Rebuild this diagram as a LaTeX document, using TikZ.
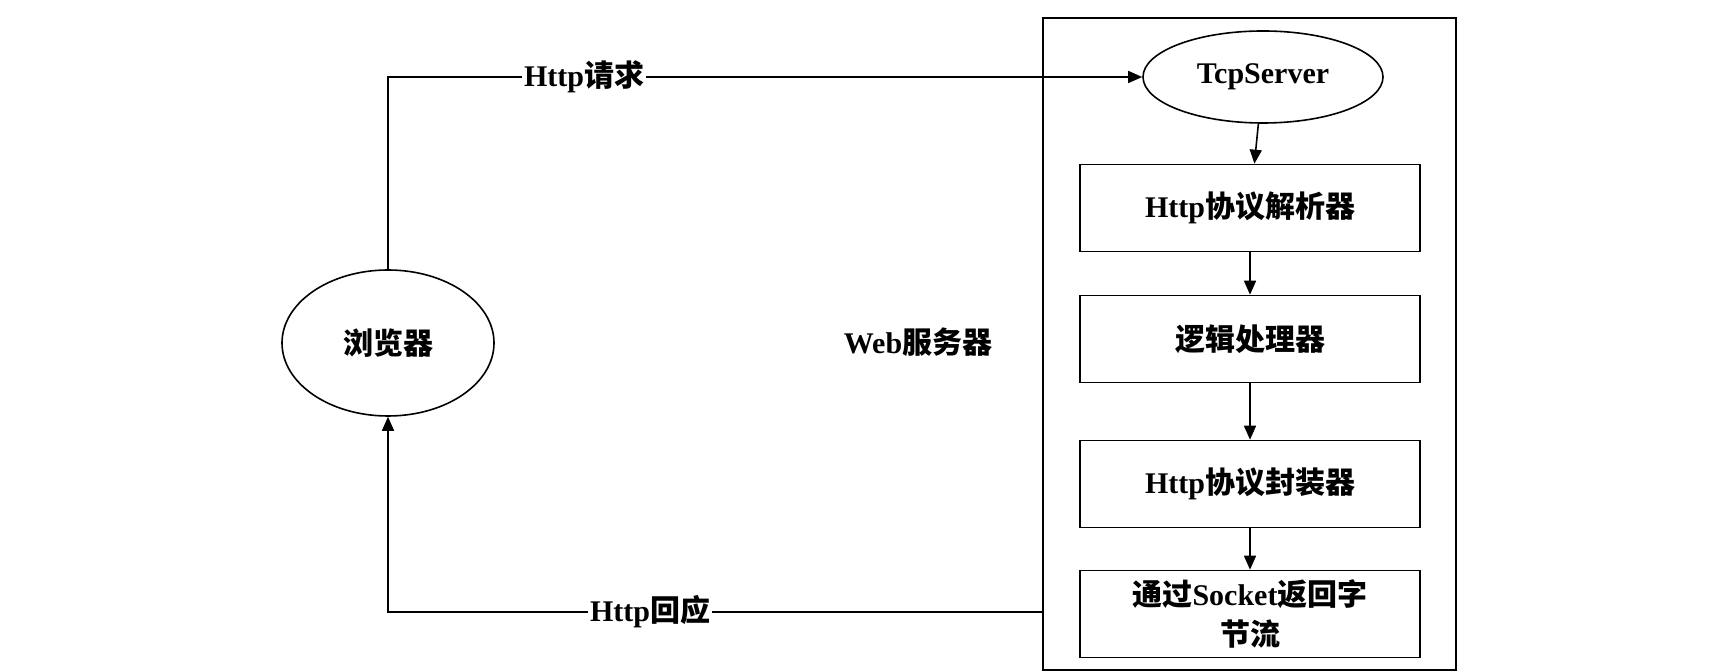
\documentclass[tikz,border=0pt]{standalone}
\usepackage{fontspec}
\setmainfont{Liberation Serif}
\newfontfamily\cjk{Noto Sans CJK SC}
\usetikzlibrary{shapes.geometric,arrows.meta}
\begin{document}
\begin{tikzpicture}[x=0.5pt,y=-0.5pt,
  txt/.style={font=\fontsize{15}{18}\selectfont\bfseries},
  box/.style={draw,thick,minimum width=170pt,minimum height=43.5pt,txt,inner sep=0pt},
  ell/.style={draw,thick,ellipse,txt,inner sep=0pt},
  arr/.style={thick,-{Triangle[length=7pt,width=6pt]}}]
\useasboundingbox (0,0) rectangle (1734,672);
\draw[thick] (1043,18) rectangle (1456,670);
\coordinate (outerleft) at (1043,612);
\node[ell,minimum width=120pt,minimum height=46pt] (tcp) at (1263,77) {TcpServer};
\node[box] (b1) at (1250,208) {Http{\cjk 协议解析器}};
\node[box] (b2) at (1250,339) {{\cjk 逻辑处理器}};
\node[box] (b3) at (1250,484) {Http{\cjk 协议封装器}};
\node[box,align=center] (b4) at (1250,614) {{\cjk 通过}Socket{\cjk 返回字}\\[2pt]{\cjk 节流}};
\node[ell,minimum width=106pt,minimum height=73pt] (br) at (388,343) {{\cjk 浏览器}};
\node[txt] at (918,342) {Web{\cjk 服务器}};
\draw[arr] (tcp) -- (b1);
\draw[arr] (b1) -- (b2);
\draw[arr] (b2) -- (b3);
\draw[arr] (b3) -- (b4);
\draw[arr] (br.north) |- node[pos=0.63,fill=white,txt,inner sep=1pt] {Http{\cjk 请求}} (tcp.west);
\draw[arr] (outerleft) -| node[pos=0.3,fill=white,txt,inner sep=1pt] {Http{\cjk 回应}} (br.south);
\end{tikzpicture}
\end{document}
